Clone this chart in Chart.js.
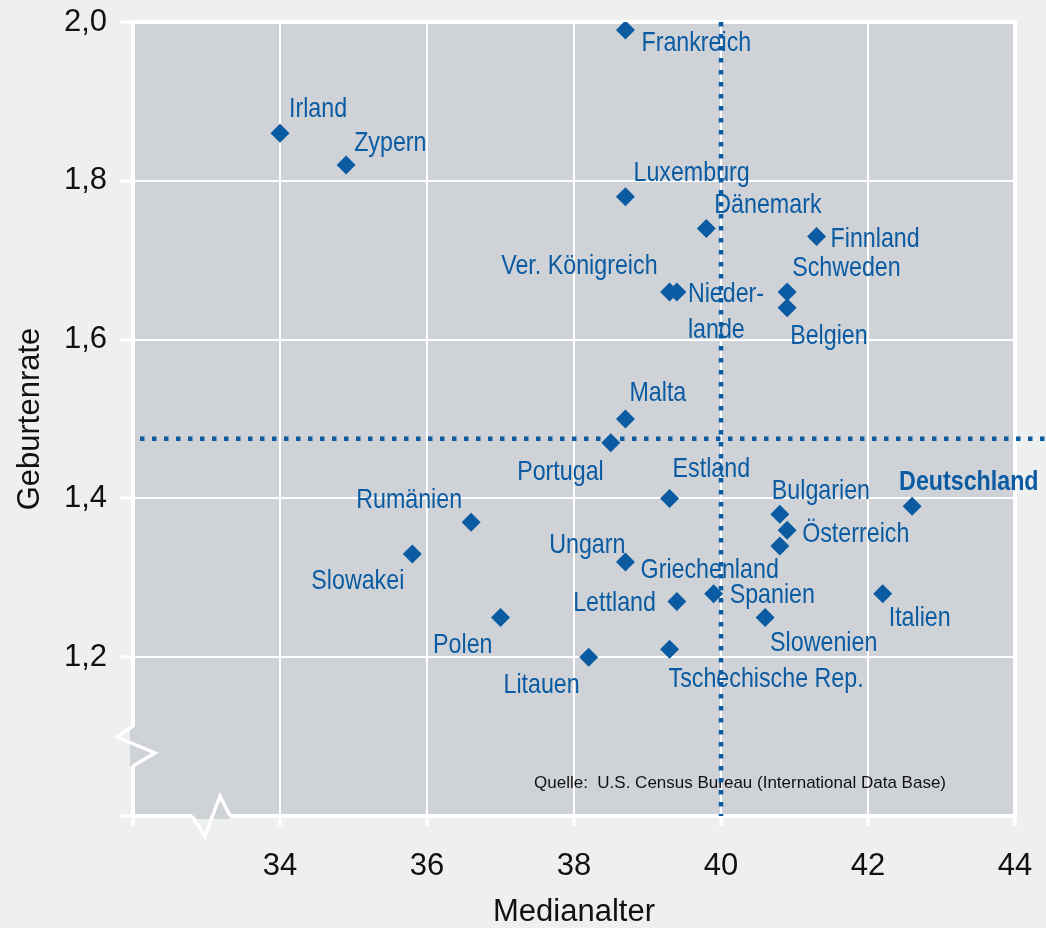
<!DOCTYPE html>
<html>
<head>
<meta charset="utf-8">
<script src="https://cdn.jsdelivr.net/npm/chart.js@4"></script>
<style>
  body { margin: 0; background: #eeefef; }
  canvas { display: block; }
</style>
</head>
<body>
<canvas id="chart" width="1046" height="928"></canvas>
<script>
// EU-Länder: Medianalter vs. Geburtenrate
const countries = ['Frankreich', 'Irland', 'Zypern', 'Luxemburg', 'Dänemark', 'Finnland',
  'Ver. Königreich', 'Niederlande', 'Schweden', 'Belgien', 'Malta', 'Portugal', 'Estland',
  'Deutschland', 'Rumänien', 'Bulgarien', 'Österreich', 'Slowakei', 'Ungarn', 'Griechenland',
  'Spanien', 'Italien', 'Lettland', 'Slowenien', 'Polen', 'Tschechische Rep.', 'Litauen'];
const medianAge = [38.7, 34.0, 34.9, 38.7, 39.8, 41.3,
  39.3, 39.4, 40.9, 40.9, 38.7, 38.5, 39.3,
  42.6, 36.6, 40.8, 40.9, 35.8, 38.7, 40.8,
  39.9, 42.2, 39.4, 40.6, 37.0, 39.3, 38.2];
const birthRate = [1.99, 1.86, 1.82, 1.78, 1.74, 1.73,
  1.66, 1.66, 1.66, 1.64, 1.50, 1.47, 1.40,
  1.39, 1.37, 1.38, 1.36, 1.33, 1.32, 1.34,
  1.28, 1.28, 1.27, 1.25, 1.25, 1.21, 1.20];
const xTicks = [32, 34, 36, 38, 40, 42, 44];
const yTicks = [1.0, 1.2, 1.4, 1.6, 1.8, 2.0];
const medianAgeRef = 40;
const birthRateRef = 1.475;
const sourceText = 'Quelle:  U.S. Census Bureau (International Data Base)';

const BLUE = '#0b5ba2';
const PLOT_BG = '#cfd3d7';
const PAGE_BG = '#eeefef';

// label offsets from the point: dx, dy, align
const labelPos = {
  'Frankreich': [16, 11, 'left'],
  'Irland': [9, -26, 'left'],
  'Zypern': [8, -24, 'left'],
  'Luxemburg': [8, -25, 'left'],
  'Dänemark': [8, -25, 'left'],
  'Finnland': [14, 1, 'left'],
  'Ver. Königreich': [-12, -28, 'right'],
  'Niederlande': [11, 0, 'left', ['Nieder-', 'lande']],
  'Schweden': [5, -26, 'left'],
  'Belgien': [3, 26, 'left'],
  'Malta': [4, -28, 'left'],
  'Portugal': [-7, 27, 'right'],
  'Estland': [3, -31, 'left'],
  'Deutschland': [-13, -26, 'left'],
  'Rumänien': [-9, -24, 'right'],
  'Bulgarien': [-8, -25, 'left'],
  'Österreich': [15, 2, 'left'],
  'Slowakei': [-8, 25, 'right'],
  'Ungarn': [0, -19, 'right'],
  'Griechenland': [-1, 22, 'right'],
  'Spanien': [16, 0, 'left'],
  'Italien': [6, 23, 'left'],
  'Lettland': [-21, 0, 'right'],
  'Slowenien': [5, 24, 'left'],
  'Polen': [-8, 26, 'right'],
  'Tschechische Rep.': [-1, 28, 'left'],
  'Litauen': [-9, 26, 'right']
};

const points = medianAge.map((x, i) => ({ x: x, y: birthRate[i] }));

function fmt(v) {
  return v.toFixed(1).replace('.', ',');
}

const decoPlugin = {
  id: 'deco',
  beforeDraw(chart) {
    const { ctx, chartArea: a } = chart;
    ctx.save();
    ctx.fillStyle = PAGE_BG;
    ctx.fillRect(0, 0, chart.width, chart.height);
    ctx.fillStyle = PLOT_BG;
    ctx.fillRect(a.left, a.top, a.right - a.left, a.bottom - a.top);
    ctx.restore();
  },
  beforeDatasetsDraw(chart) {
    const { ctx, chartArea: a } = chart;
    ctx.save();
    ctx.strokeStyle = '#ffffff';
    ctx.lineWidth = 4;
    ctx.strokeRect(a.left, a.top, a.right - a.left, a.bottom - a.top);

    // axis breaks
    ctx.fillStyle = PLOT_BG;
    ctx.fillRect(a.left - 3, a.bottom - 89, 6, 39);
    ctx.fillRect(a.left + 59, a.bottom - 3, 38, 6);
    ctx.lineWidth = 3.5;
    ctx.beginPath();
    ctx.moveTo(a.left, a.bottom - 90);
    ctx.lineTo(a.left - 16, a.bottom - 79);
    ctx.lineTo(a.left + 22, a.bottom - 63);
    ctx.lineTo(a.left, a.bottom - 50);
    ctx.stroke();
    ctx.beginPath();
    ctx.moveTo(a.left + 59, a.bottom);
    ctx.lineTo(a.left + 72, a.bottom + 20);
    ctx.lineTo(a.left + 87, a.bottom - 20);
    ctx.lineTo(a.left + 97, a.bottom);
    ctx.stroke();
    ctx.restore();
  },
  afterDatasetsDraw(chart) {
    const { ctx, chartArea: a, scales } = chart;
    const xs = scales.x, ys = scales.y;
    ctx.save();
    ctx.fillStyle = BLUE;
    ctx.textBaseline = 'middle';
    countries.forEach((name, i) => {
      const p = labelPos[name];
      const px = xs.getPixelForValue(medianAge[i]);
      const py = ys.getPixelForValue(birthRate[i]);
      const lines = p[3] || [name];
      ctx.font = (name === 'Deutschland' ? 'bold ' : '') + '28px "Liberation Sans", Arial, sans-serif';
      ctx.textAlign = p[2];
      lines.forEach((t, j) => {
        ctx.save();
        ctx.translate(px + p[0], py + p[1] + 2 + j * 36);
        ctx.scale(0.83, 1);
        ctx.fillText(t, 0, 0);
        ctx.restore();
      });
    });

    // source
    ctx.fillStyle = '#111111';
    ctx.font = '17px "Liberation Sans", Arial, sans-serif';
    ctx.textAlign = 'right';
    ctx.fillText(sourceText, a.right - 69, a.bottom - 33);

    // reference lines
    ctx.strokeStyle = BLUE;
    ctx.lineWidth = 4.5;
    ctx.setLineDash([4.5, 7.5]);
    const vx = xs.getPixelForValue(medianAgeRef);
    ctx.beginPath();
    ctx.moveTo(vx, a.top);
    ctx.lineTo(vx, a.bottom);
    ctx.stroke();
    const hy = ys.getPixelForValue(birthRateRef);
    ctx.beginPath();
    ctx.moveTo(a.left + 7, hy);
    ctx.lineTo(chart.width, hy);
    ctx.stroke();
    ctx.restore();
  }
};

new Chart(document.getElementById('chart'), {
  type: 'scatter',
  data: {
    datasets: [{
      data: points,
      pointStyle: 'rectRot',
      pointRadius: 9.5,
      pointHoverRadius: 9.5,
      backgroundColor: BLUE,
      borderWidth: 0
    }]
  },
  options: {
    responsive: false,
    animation: false,
    devicePixelRatio: 1,
    layout: { padding: { top: 22, right: 31, left: 0, bottom: 0 } },
    plugins: {
      legend: { display: false },
      tooltip: { enabled: false }
    },
    scales: {
      x: {
        type: 'linear',
        min: xTicks[0],
        max: xTicks[xTicks.length - 1],
        afterFit(s) { s.height = 112; s.paddingLeft = 0; s.paddingRight = 0; },
        afterBuildTicks(s) { s.ticks = xTicks.map(v => ({ value: v })); },
        border: { display: false },
        grid: { color: '#ffffff', lineWidth: 2, tickColor: '#ffffff', tickWidth: 3, tickLength: 10 },
        ticks: {
          color: '#111111',
          padding: 22,
          font: { family: '"Liberation Sans", Arial, sans-serif', size: 31 },
          callback: v => (v === xTicks[0] ? '' : String(v))
        },
        title: {
          display: true,
          text: 'Medianalter',
          color: '#111111',
          padding: { top: 0, bottom: 0 },
          font: { family: '"Liberation Sans", Arial, sans-serif', size: 31, lineHeight: 1 }
        }
      },
      y: {
        type: 'linear',
        min: yTicks[0],
        max: yTicks[yTicks.length - 1],
        afterFit(s) { s.width = 133; s.paddingTop = 0; s.paddingBottom = 0; },
        afterBuildTicks(s) { s.ticks = yTicks.map(v => ({ value: v })); },
        border: { display: false },
        grid: { color: '#ffffff', lineWidth: 2, tickColor: '#ffffff', tickWidth: 3, tickLength: 13 },
        ticks: {
          color: '#111111',
          padding: 13,
          font: { family: '"Liberation Sans", Arial, sans-serif', size: 31 },
          callback: v => (v === yTicks[0] ? '' : fmt(v))
        },
        title: {
          display: true,
          text: 'Geburtenrate',
          color: '#111111',
          padding: { top: 15, bottom: 0 },
          font: { family: '"Liberation Sans", Arial, sans-serif', size: 31, lineHeight: 1 }
        }
      }
    }
  },
  plugins: [decoPlugin]
});
</script>
</body>
</html>
